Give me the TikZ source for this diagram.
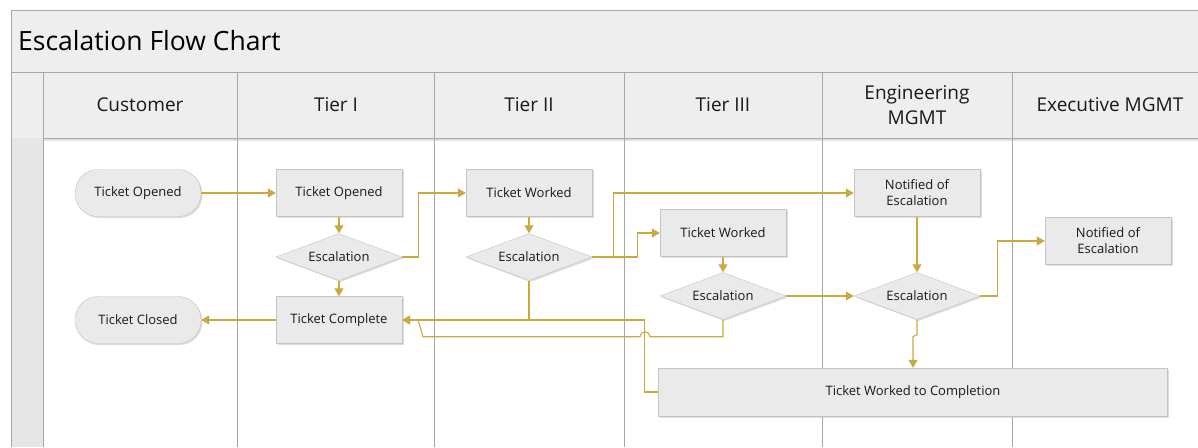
\documentclass[tikz,border=0pt]{standalone}
\usepackage{fontspec}
\setmainfont{Open Sans}
\usetikzlibrary{shapes.geometric,arrows.meta,shadows}
\definecolor{gold}{RGB}{201,170,62}
\definecolor{boxfill}{RGB}{234,234,234}
\definecolor{boxline}{RGB}{196,196,196}
\definecolor{bandfill}{RGB}{238,238,238}
\definecolor{stripfill}{RGB}{230,230,230}
\definecolor{laneline}{RGB}{160,170,170}
\definecolor{textc}{RGB}{25,25,25}
\begin{document}
\begin{tikzpicture}[x=1pt,y=-1pt,
  box/.style={draw=boxline, fill=boxfill, minimum width=126pt, minimum height=47pt,
    inner sep=0pt, font=\fontsize{13}{16}\selectfont, text=textc, align=center,
    drop shadow={shadow xshift=1.5pt, shadow yshift=-1.5pt, opacity=0.3, fill=black!45}},
  term/.style={box, rounded corners=23pt},
  dec/.style={box, diamond, shape aspect=2.68},
  flow/.style={draw=gold, line width=1.1pt, -{Triangle[width=9pt,length=8pt]}},
  wire/.style={draw=gold, line width=1.1pt},
  lane/.style={draw=laneline, line width=0.8pt},
  hdr/.style={font=\fontsize{19}{23}\selectfont, text=textc, align=center}
]
\useasboundingbox (0,0) rectangle (1198,447);
\clip (0,0) rectangle (1198,447);
\fill[white] (0,0) rectangle (1198,447);
% frame
\fill[bandfill] (11,10) rectangle (1198,138);
\fill[stripfill] (11,138) rectangle (43,447);
\draw[black!12, line width=2.5pt] (43,140) -- (1198,140);
\draw[lane] (1198,10) -- (11,10) -- (11,447);
\draw[lane] (11,72) -- (1198,72);
\draw[lane] (43,72) -- (43,447);
\draw[lane] (43,138) -- (1198,138);
\foreach \xx in {237,434,624,822,1012} \draw[lane] (\xx,72) -- (\xx,447);
% titles
\node[anchor=base west, font=\fontsize{26.5}{30}\selectfont, text=black, inner sep=0pt] (title) at (18,50) {Escalation Flow Chart};
\node[hdr] (hCust) at (140,105) {Customer};
\node[hdr] (hT1) at (336,105) {Tier I};
\node[hdr] (hT2) at (529,105) {Tier II};
\node[hdr] (hT3) at (723,105) {Tier III};
\node[hdr, font=\fontsize{19}{25}\selectfont] (hEng) at (917,105) {Engineering\\MGMT};
\node[hdr] (hExec) at (1110,105) {Executive MGMT};
% nodes
\node[term] (cOpen) at (138,193) {Ticket Opened};
\node[term] (cClose) at (138,320) {Ticket Closed};
\node[box] (t1Open) at (339,193) {Ticket Opened};
\node[dec] (d1) at (339,257) {Escalation};
\node[box] (tc) at (339,320) {Ticket Complete};
\node[box] (t2W) at (529,193) {Ticket Worked};
\node[dec] (d2) at (529,257) {Escalation};
\node[box] (t3W) at (723,233) {Ticket Worked};
\node[dec] (d3) at (723,296) {Escalation};
\node[box] (nEng) at (917,193) {Notified of\\Escalation};
\node[dec] (d4) at (917,296) {Escalation};
\node[box] (nExec) at (1108,241) {Notified of\\Escalation};
\node[box, minimum width=509pt, minimum height=48pt] (twc) at (913,392) {Ticket Worked to Completion};
\coordinate (m1) at (418,320);
% connectors
\draw[flow] (cOpen) -- (t1Open);
\draw[flow] (t1Open) -- (d1);
\draw[flow] (d1) -- (tc);
\draw[flow] (tc) -- (cClose);
\draw[flow] (d1.east) -- ++(16,0) |- (t2W.west);
\draw[flow] (t2W) -- (d2);
\draw[flow] (d2.east) -- ++(21,0) |- (nEng.west);
\draw[flow] (d2.east) -- ++(45,0) |- (t3W.west);
\draw[flow] (d2.south) |- (tc.east);
\draw[flow] (twc.west) -- ++(-14,0) |- (tc.east);
\draw[wire] (d3.south) -- ++(0,17) -- ++(-73,0) arc[start angle=0, end angle=180, radius=5pt] -- ++(-217,0) -- (m1);
\draw[flow] (t3W) -- (d3);
\draw[flow] (d3) -- (d4);
\draw[flow] (nEng) -- (d4);
\draw[flow] (d4.east) -- ++(17,0) |- (nExec.west);
\draw[flow] (d4.south) -- ++(0,15) -- ++(-4,2) -- (twc.north);
\end{tikzpicture}
\end{document}
